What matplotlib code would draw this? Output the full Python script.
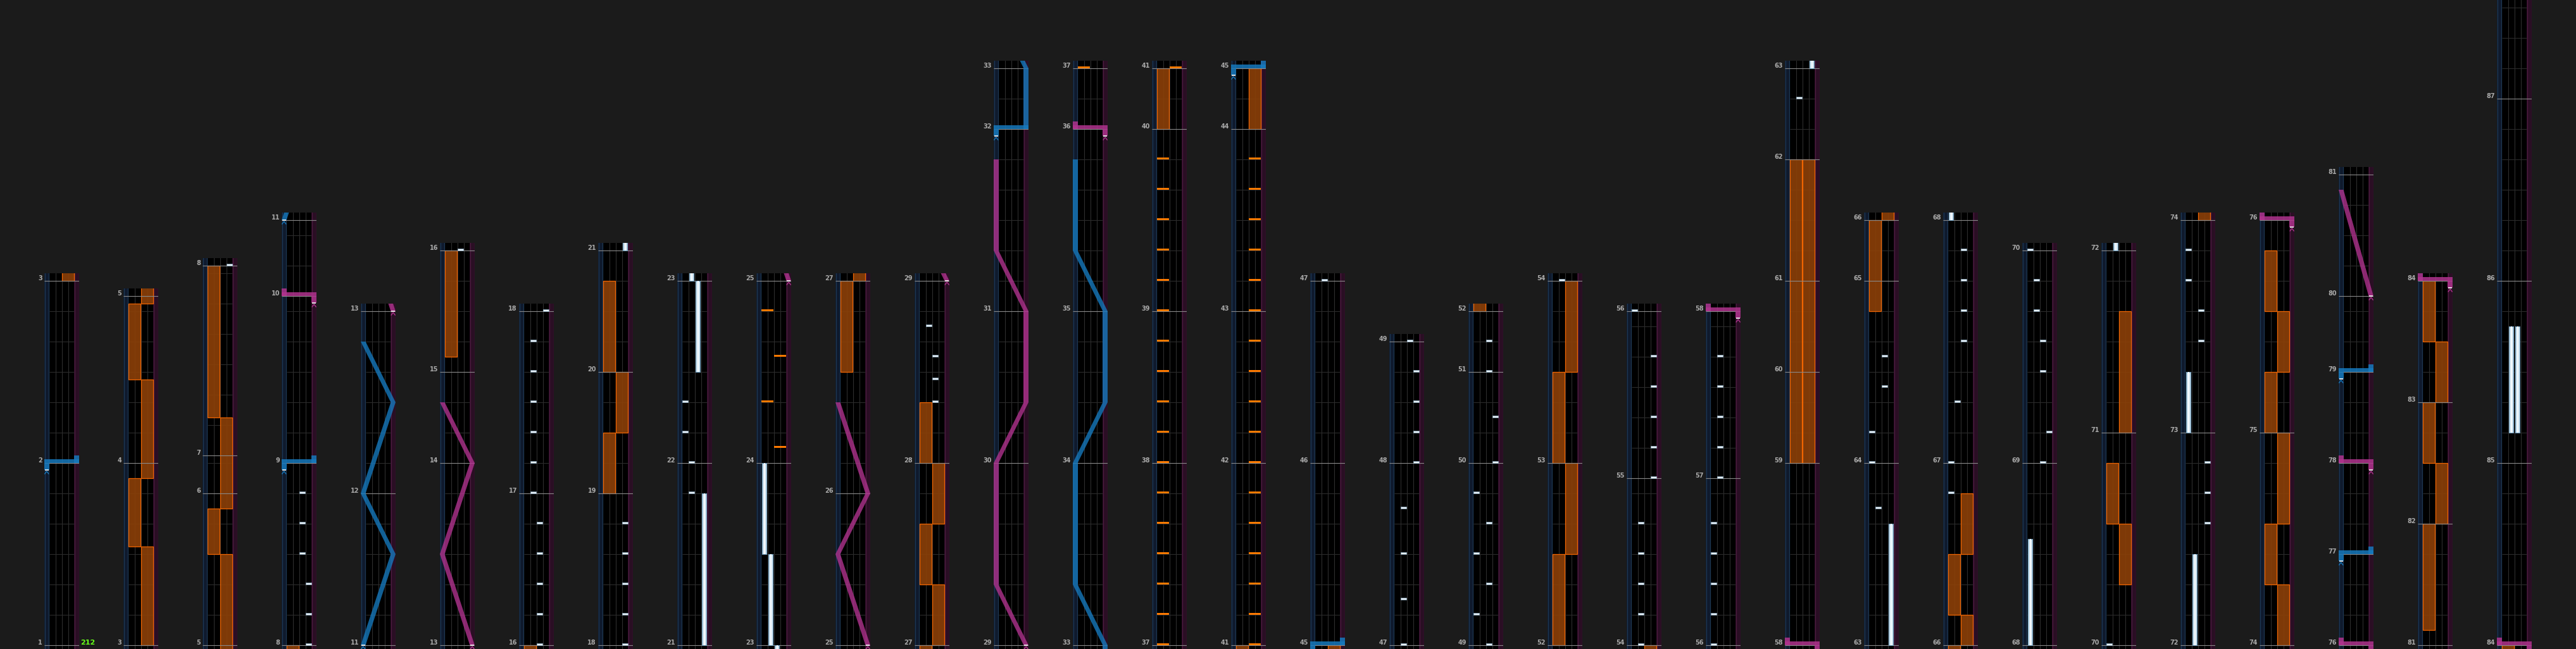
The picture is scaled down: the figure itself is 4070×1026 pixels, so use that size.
import numpy as np
import matplotlib
matplotlib.use('Agg')
import matplotlib.pyplot as plt
from matplotlib.patches import Rectangle, Polygon


# chart data: beats per measure (m1..m87)
measure_beats = [6, 6, 6, 5.5, 5, 1.25, 6.25, 6, 5.5, 2.5,
                 5, 6, 6, 3, 4, 5, 6, 5, 4, 4,
                 6, 6, 6, 6, 5, 7, 6, 6, 6, 5,
                 6, 2, 6, 5, 6, 2, 6, 5, 6, 2,
                 6, 5, 6, 2, 6, 6, 6, 4, 6, 3,
                 2, 6, 6, 5.5, 5.5, 5.5, 5.5, 6, 3, 3,
                 4, 3, 6, 6, 2, 6, 8, 6, 7, 7,
                 6, 7, 7, 7, 7, 3, 3, 3, 2.5, 4,
                 4, 4, 4, 6, 6, 6, 6]

# first measure shown in each column
column_first = [1, 3, 5, 8, 11, 13, 16, 18, 21, 23, 25, 27, 29, 33, 37, 41,
                45, 47, 49, 52, 54, 56, 58, 63, 66, 68, 70, 72, 74, 76, 81, 84]

bpm_label = '212'

# BT chips: (lane, measure, beat)
bt_chips = [(3, 8, 0), (3, 8, 1), (3, 8, 2), (2, 8, 3), (2, 8, 4), (2, 8, 5),
            (2, 16, 0), (2, 16, 1), (2, 16, 2), (2, 16, 3), (2, 16, 4),
            (1, 17, 0), (1, 17, 1), (1, 17, 2), (1, 17, 3), (1, 17, 4), (1, 17, 5),
            (3, 18, 0), (3, 18, 1), (3, 18, 2), (3, 18, 3), (3, 18, 4),
            (1, 21, 5), (1, 22, 0), (0, 22, 1), (0, 22, 2),
            (2, 28, 2), (2, 28, 2.75), (2, 28, 3.5), (1, 28, 4.5),
            (1, 47, 0), (1, 47, 1.5), (1, 47, 3), (1, 47, 4.5),
            (3, 48, 0), (3, 48, 1), (3, 48, 2), (3, 48, 3), (2, 49, 0),
            (0, 49, 1), (2, 49, 2), (0, 49, 3), (2, 49, 4), (0, 49, 5),
            (3, 50, 0), (3, 50, 1.5), (2, 51, 0), (2, 51, 1),
            (1, 54, 0), (1, 54, 1), (1, 54, 2), (1, 54, 3), (1, 54, 4),
            (3, 55, 0), (3, 55, 1), (3, 55, 2), (3, 55, 3), (3, 55, 4),
            (0, 56, 0), (0, 56, 1), (0, 56, 2), (0, 56, 3), (0, 56, 4),
            (1, 57, 0), (1, 57, 1), (1, 57, 2), (1, 57, 3), (1, 57, 4),
            (1, 62, 2), (1, 63, 4.5), (0, 64, 0), (0, 64, 1), (2, 64, 2.5), (2, 64, 3.5),
            (0, 66, 5), (0, 67, 0), (1, 67, 2), (2, 67, 4), (2, 67, 5), (2, 67, 6), (2, 67, 7),
            (2, 69, 0), (3, 69, 1), (2, 69, 3), (2, 69, 4), (1, 69, 5), (1, 69, 6), (0, 70, 0),
            (3, 72, 4), (3, 72, 5), (3, 72, 6), (2, 73, 3), (2, 73, 4), (0, 73, 5), (0, 73, 6)]

# BT holds: (lane, start measure, start beat, end measure, end beat)
bt_holds = [(3, 21, 0, 21, 5), (2, 22, 3, 23, 0), (1, 23, 0, 23, 3), (0, 23, 3, 24, 0),
            (3, 63, 0, 63, 4), (0, 68, 0, 68, 3.5), (1, 72, 0, 72, 3), (0, 73, 0, 73, 2),
            (1, 85, 1, 85, 4.5), (2, 85, 1, 85, 4.5)]

# FX chips: (side 0=L 1=R, measure, beat)
fx_chips = [(1, 24, 0.5), (0, 24, 2), (1, 24, 3.5), (0, 24, 5)]
fx_chips += [(0, 37, b) for b in range(6)] + [(0, 38, b) for b in range(5)] + [(0, 39, b) for b in range(6)]
fx_chips += [(1, 41, b) for b in range(6)] + [(1, 42, b) for b in range(5)] + [(1, 43, b) for b in range(6)]

# FX holds: (side, start measure, start beat, end measure, end beat)
fx_holds = [(1, 3, 0, 3, 3.25), (0, 3, 3.25, 3, 5.5), (1, 3, 5.5, 4, 2.75), (0, 4, 2.75, 4, 5.25),
            (1, 4, 5.25, 5, 3), (0, 5, 3, 5, 4.5), (1, 5, 4.5, 7, 1.25), (0, 7, 1.25, 8, 0),
            (0, 15, 0.5, 16, 0),
            (0, 19, 0, 19, 2), (1, 19, 2, 20, 0), (0, 20, 0, 20, 3),
            (0, 26, 4, 27, 0), (1, 27, 0, 27, 2), (0, 27, 2, 27, 4), (1, 27, 4, 28, 0), (0, 28, 0, 28, 2),
            (0, 40, 0, 41, 0), (1, 44, 0, 45, 0),
            (0, 52, 0, 52, 3), (1, 52, 3, 53, 0), (0, 53, 0, 53, 3), (1, 53, 3, 54, 0),
            (0, 59, 0, 62, 0), (1, 59, 0, 62, 0),
            (0, 64, 5, 66, 0), (1, 66, 0, 66, 1), (0, 66, 1, 66, 3), (1, 66, 3, 66, 5),
            (1, 70, 2, 70, 4), (0, 70, 4, 70, 6), (1, 71, 0, 71, 4),
            (1, 74, 0, 74, 2), (0, 74, 2, 74, 4), (1, 74, 4, 75, 0), (0, 75, 0, 75, 2),
            (1, 75, 2, 75, 4), (0, 75, 4, 75, 6),
            (0, 81, 0.5, 82, 0), (1, 82, 0, 82, 2), (0, 82, 2, 83, 0), (1, 83, 0, 83, 2), (0, 83, 2, 84, 0)]

# lasers: list of (measure, beat, position 0..1); same time twice = slam
lasers_left = [
    [(2, 0, 0), (2, 0, 1)],
    [(9, 0, 0), (9, 0, 1)],
    [(11, 0, 0), (11, 3, 1), (12, 0, 0), (12, 3, 1), (12, 5, 0)],
    [(32, 0, 0), (32, 0, 1), (33, 0, 1), (33, 2, 0), (34, 0, 0), (34, 2, 1),
     (35, 0, 1), (35, 2, 0), (35, 5, 0)],
    [(45, 0, 0), (45, 0, 1)],
    [(77, 0, 0), (77, 0, 1)],
    [(79, 0, 0), (79, 0, 1)],
]
lasers_right = [
    [(10, 0, 1), (10, 0, 0)],
    [(13, 0, 1), (13, 3, 0), (14, 0, 1), (14, 2, 0)],
    [(25, 0, 1), (25, 3, 0), (26, 0, 1), (26, 3, 0)],
    [(29, 0, 1), (29, 2, 0), (30, 0, 0), (30, 2, 1), (31, 0, 1), (31, 2, 0), (31, 5, 0)],
    [(36, 0, 1), (36, 0, 0)],
    [(58, 0, 1), (58, 0, 0)],
    [(76, 0, 1), (76, 0, 0)],
    [(78, 0, 1), (78, 0, 0)],
    [(80, 0, 1), (80, 3.5, 0)],
    [(84, 0, 1), (84, 0, 0)],
]

# layout (pixels)
PX_BEAT = 48
BASE_Y = 1020
COL_X0 = 70
COL_STEP = 125
COL_W = 55
LL_W = 7.7
BT_W = 10
PAD = 12
LASER_W = 7.6

BG = '#1b1b1b'
BLUE = '#1679bd'
PINK = '#b0338e'

starts = np.concatenate([[0.0], np.cumsum(measure_beats)])
n_measures = len(measure_beats)


def t(m, b=0.0):
    return starts[m - 1] + b


fig = plt.figure(figsize=(40.70, 10.26), dpi=100)
fig.patch.set_facecolor(BG)
ax = fig.add_axes([0, 0, 1, 1])
ax.set_facecolor(BG)
ax.set_xlim(0, 4070)
ax.set_ylim(1026, 0)
ax.axis('off')


def rect(x, y, w, h, clip, **kw):
    p = Rectangle((x, y), w, h, **kw)
    ax.add_patch(p)
    p.set_clip_path(clip)
    return p


def hline(x0, x1, y, clip, **kw):
    ln, = ax.plot([x0, x1], [y, y], solid_capstyle='butt', **kw)
    ln.set_clip_path(clip)
    return ln


def draw_laser(points, color, x0, ymap, clip, lo, hi):
    pts = [(t(m, b), p) for m, b, p in points]
    if pts[-1][0] < lo or pts[0][0] > hi:
        return

    def xc(p):
        return x0 + LASER_W / 2 + p * (COL_W - LASER_W)

    for (ta, pa), (tb, pb) in zip(pts[:-1], pts[1:]):
        ya, yb = ymap(ta), ymap(tb)
        if ta == tb:
            xa, xb = sorted([xc(pa), xc(pb)])
            rect(xa - LASER_W / 2, ya - 6, xb - xa + LASER_W, 6, clip,
                 facecolor=color, edgecolor='none', alpha=0.85, zorder=7)
        else:
            poly = Polygon([(xc(pa) - LASER_W / 2, ya), (xc(pa) + LASER_W / 2, ya),
                            (xc(pb) + LASER_W / 2, yb), (xc(pb) - LASER_W / 2, yb)],
                           closed=True, facecolor=color, edgecolor='none', alpha=0.8, zorder=7)
            ax.add_patch(poly)
            poly.set_clip_path(clip)

    # slam at the end: short block above
    if len(pts) > 1 and pts[-1][0] == pts[-2][0]:
        ye = ymap(pts[-1][0])
        rect(xc(pts[-1][1]) - LASER_W / 2, ye - PAD, LASER_W, PAD, clip,
             facecolor=color, edgecolor='none', alpha=0.85, zorder=7)
    # start marker
    ts, ps = pts[0]
    ys = ymap(ts)
    if len(pts) > 1 and pts[1][0] == ts:
        rect(xc(ps) - LASER_W / 2, ys, LASER_W, 11, clip,
             facecolor=color, edgecolor='none', alpha=0.85, zorder=7)
        ys += 11
    hline(xc(ps) - LASER_W / 2 + 1, xc(ps) + LASER_W / 2 - 1, ys, clip,
          color='white', lw=1.2, zorder=8)
    ch, = ax.plot([xc(ps) - 3, xc(ps), xc(ps) + 3], [ys + 6, ys + 2, ys + 6],
                  color=color, lw=1.0, zorder=8)
    ch.set_clip_path(clip)


for ci, first in enumerate(column_first):
    nxt = column_first[ci + 1] if ci + 1 < len(column_first) else n_measures + 1
    t0, t1 = t(first), starts[nxt - 1]
    x0 = COL_X0 + ci * COL_STEP

    def ymap(tt, t0=t0):
        return BASE_Y - PX_BEAT * (tt - t0)

    top = ymap(t1) - PAD
    bot = BASE_Y + PAD
    lo, hi = t0 - 0.5, t1 + 0.5
    clip = Rectangle((x0, top), COL_W, bot - top, transform=ax.transData)

    # column body
    rect(x0, top, COL_W, bot - top, clip, facecolor='black', edgecolor='none', zorder=1)
    rect(x0, top, LL_W, bot - top, clip, facecolor='#0f1a2d', edgecolor='none', zorder=1.5)
    rect(x0 + COL_W - LL_W, top, LL_W, bot - top, clip, facecolor='#2a0e24',
         edgecolor='none', zorder=1.5)
    for xv, col in [(x0 + 0.5, '#1e3854'), (x0 + LL_W - 0.5, '#1e3854'),
                    (x0 + COL_W - LL_W + 0.5, '#4a1a3e'), (x0 + COL_W - 0.5, '#4a1a3e')]:
        ln, = ax.plot([xv, xv], [top, bot], color=col, lw=0.9, zorder=2)
        ln.set_clip_path(clip)
    for k in range(1, 4):
        xv = x0 + LL_W + k * BT_W
        ln, = ax.plot([xv, xv], [top, bot], color='#2e2e2e', lw=0.8, zorder=2)
        ln.set_clip_path(clip)

    # beat lines and measure lines
    for m in range(1, n_measures + 1):
        ms = t(m)
        if ms > hi or ms + measure_beats[m - 1] < lo:
            continue
        for k in range(1, int(np.ceil(measure_beats[m - 1]))):
            hline(x0 + LL_W, x0 + COL_W - LL_W, ymap(ms + k), clip,
                  color='#2b2b2b', lw=0.8, zorder=2)
    for m in range(first, nxt + 1):
        ym = ymap(starts[m - 1])
        hline(x0, x0 + COL_W, ym, clip, color='#8a8a8a', lw=0.8, zorder=4)
        if ym > 14:
            ax.text(x0 - 3, ym + 1, str(m), ha='right', va='bottom', color='#a9a9a9',
                    fontsize=7, fontweight='bold', family='DejaVu Sans', zorder=9)

    # FX holds
    for side, m0, b0, m1, b1 in fx_holds:
        ta, tb = t(m0, b0), t(m1, b1)
        if tb < lo or ta > hi:
            continue
        xs = x0 + LL_W + side * 2 * BT_W
        rect(xs + 0.5, ymap(tb), 2 * BT_W - 1, ymap(ta) - ymap(tb), clip,
             facecolor='#8a3f08', edgecolor='#ff6a00', lw=0.9, alpha=0.92, zorder=3)

    # BT holds
    for lane, m0, b0, m1, b1 in bt_holds:
        ta, tb = t(m0, b0), t(m1, b1)
        if tb < lo or ta > hi:
            continue
        xs = x0 + LL_W + lane * BT_W
        rect(xs + 1.5, ymap(tb), BT_W - 3, ymap(ta) - ymap(tb), clip,
             facecolor='#cfe2ee', edgecolor='#6f9dbd', lw=0.8, zorder=5)
        rect(xs + 4, ymap(tb), 2, ymap(ta) - ymap(tb), clip,
             facecolor='#f6fbff', edgecolor='none', zorder=5.1)

    # FX chips
    for side, m, b in fx_chips:
        tc = t(m, b)
        if tc < lo or tc > hi:
            continue
        xs = x0 + LL_W + side * 2 * BT_W
        rect(xs + 0.5, ymap(tc) - 3, 2 * BT_W - 1, 3, clip,
             facecolor='#ff7a00', edgecolor='none', zorder=5)

    # BT chips
    for lane, m, b in bt_chips:
        tc = t(m, b)
        if tc < lo or tc > hi:
            continue
        xs = x0 + LL_W + lane * BT_W
        rect(xs + 0.5, ymap(tc) - 3, BT_W - 1, 3, clip,
             facecolor='#e8f0f6', edgecolor='#8fb0c8', lw=0.5, zorder=6)

    for laser in lasers_left:
        draw_laser(laser, BLUE, x0, ymap, clip, lo, hi)
    for laser in lasers_right:
        draw_laser(laser, PINK, x0, ymap, clip, lo, hi)

    if ci == 0:
        ax.text(x0 + COL_W + 2, BASE_Y + 1, bpm_label, ha='left', va='bottom',
                color='#66ff1a', fontsize=8, fontweight='bold', zorder=9)

fig.savefig('out.png', dpi=100, facecolor=BG)
